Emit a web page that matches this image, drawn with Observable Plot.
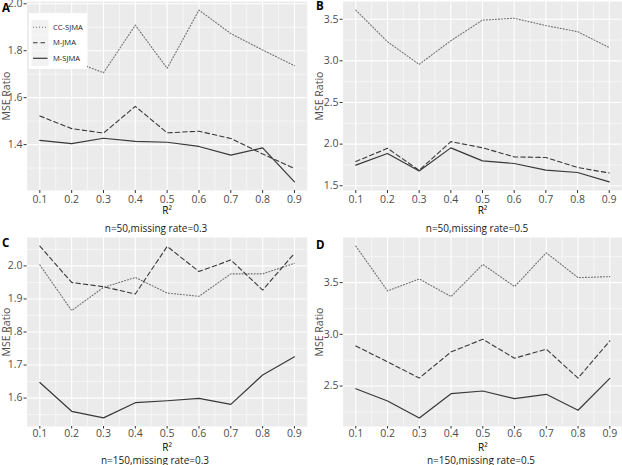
<!DOCTYPE html>
<html><head><meta charset="utf-8">
<script src="https://cdn.jsdelivr.net/npm/d3@7"></script>
<script src="https://cdn.jsdelivr.net/npm/@observablehq/plot@0.6"></script>
<style>
body{margin:0;background:#fff;font-family:"Open Sans",sans-serif}
#wrap{position:relative;width:622px;height:465px;overflow:hidden;background:#fff}
.pn{position:absolute}
.letter{position:absolute;font-weight:bold;font-size:11.5px;line-height:1;color:#000}
.cap{position:absolute;width:220px;text-align:center;font-size:10px;line-height:1;color:#1a1a1a;white-space:nowrap}
#legend{position:absolute}
</style>
</head><body><div id="wrap"></div>
<script>
// ---- data ----
const r2 = [0.1, 0.2, 0.3, 0.4, 0.5, 0.6, 0.7, 0.8, 0.9];
const methods = ["CC-SJMA", "M-JMA", "M-SJMA"];

const ccA = [1.75, 1.758, 1.706, 1.909, 1.725, 1.973, 1.873, 1.803, 1.736];
const mjA = [1.522, 1.468, 1.449, 1.563, 1.450, 1.457, 1.426, 1.360, 1.298];
const msA = [1.418, 1.404, 1.427, 1.414, 1.410, 1.392, 1.355, 1.386, 1.241];

const ccB = [3.61, 3.23, 2.958, 3.242, 3.49, 3.512, 3.424, 3.351, 3.16];
const mjB = [1.79, 1.95, 1.685, 2.03, 1.956, 1.847, 1.839, 1.719, 1.653];
const msB = [1.747, 1.888, 1.678, 1.955, 1.799, 1.767, 1.687, 1.659, 1.546];

const ccC = [2.003, 1.865, 1.935, 1.965, 1.918, 1.908, 1.976, 1.976, 2.008];
const mjC = [2.06, 1.95, 1.937, 1.915, 2.059, 1.983, 2.018, 1.927, 2.038];
const msC = [1.647, 1.56, 1.54, 1.586, 1.592, 1.599, 1.581, 1.67, 1.725];

const ccD = [3.853, 3.42, 3.535, 3.365, 3.676, 3.462, 3.788, 3.548, 3.558];
const mjD = [2.888, 2.734, 2.577, 2.83, 2.952, 2.769, 2.856, 2.577, 2.936];
const msD = [2.474, 2.356, 2.192, 2.426, 2.452, 2.378, 2.42, 2.266, 2.574];

const yTicksA = [1.4, 1.6, 1.8, 2.0];
const yTicksB = [1.5, 2.0, 2.5, 3.0, 3.5];
const yTicksC = [1.6, 1.7, 1.8, 1.9, 2.0];
const yTicksD = [2.5, 3.0, 3.5];

const letters = ["A", "B", "C", "D"];
const captions = ["n=50,missing rate=0.3", "n=50,missing rate=0.5", "n=150,missing rate=0.3", "n=150,missing rate=0.5"];
const yTitle = "MSE Ratio";
const xTitle = "R²";

// ---- styles / layout ----
const lineStyles = {
  "CC-SJMA": {stroke: "#6e6e6e", strokeWidth: 1.1, strokeDasharray: "1,2"},
  "M-JMA": {stroke: "#383838", strokeWidth: 1.1, strokeDasharray: "4.5,3"},
  "M-SJMA": {stroke: "#383838", strokeWidth: 1.2, strokeDasharray: null}
};
const W = 311, H = 216;
const layout = [
  {left: 0, top: 0, ml: 26.6, mr: 4.3, lx: 2, pad: 2, ts: 3, rdy: 20.5, letter: [2, 2], cap: [156, 223]},
  {left: 311, top: 0, ml: 31.6, mr: 0.6, lx: 4.5, pad: 2, ts: 3, rdy: 20.5, letter: [316, 0], cap: [477, 223]},
  {left: 0, top: 236, ml: 26.6, mr: 4.3, lx: 2, pad: 0.5, ts: 2.5, rdy: 21.5, letter: [2, 236.5], cap: [155, 455]},
  {left: 311, top: 236, ml: 31.6, mr: 0, lx: 4.5, pad: 0.5, ts: 2.5, rdy: 21.5, letter: [316, 238.5], cap: [481, 455]}
];
const series = [[ccA, mjA, msA], [ccB, mjB, msB], [ccC, mjC, msC], [ccD, mjD, msD]];
const yTicks = [yTicksA, yTicksB, yTicksC, yTicksD];

const wrap = document.getElementById("wrap");
const fmt = d3.format(".1f");

function expand(ext) { const p = (ext[1] - ext[0]) * 0.05; return [ext[0] - p, ext[1] + p]; }
function minor(t, dom) {
  const s = t[1] - t[0];
  return d3.range(t[0] - s / 2, t[t.length - 1] + s, s).filter(v => v >= dom[0] && v <= dom[1]);
}

series.forEach((ser, i) => {
  const L = layout[i];
  const data = methods.flatMap((m, k) => ser[k].map((v, j) => ({method: m, r2: r2[j], v})));
  const ydom = expand(d3.extent(data, d => d.v));
  const xdom = expand(d3.extent(r2));
  const xMinor = minor(r2, xdom);
  const yMinor = minor(yTicks[i], ydom);
  const chart = Plot.plot({
    width: W, height: H,
    marginLeft: L.ml, marginRight: L.mr, marginTop: 1, marginBottom: H - 190,
    style: {fontFamily: "Open Sans, sans-serif", fontSize: "10px", background: "transparent", overflow: "visible"},
    x: {domain: xdom},
    y: {domain: ydom},
    marks: [
      Plot.frame({fill: "#EBEBEB", stroke: "none"}),
      Plot.gridX(xMinor, {stroke: "#fff", strokeOpacity: 1, strokeWidth: 0.55}),
      Plot.gridY(yMinor, {stroke: "#fff", strokeOpacity: 1, strokeWidth: 0.55}),
      Plot.gridX(r2, {stroke: "#fff", strokeOpacity: 1, strokeWidth: 1.1}),
      Plot.gridY(yTicks[i], {stroke: "#fff", strokeOpacity: 1, strokeWidth: 1.1}),
      Plot.axisX(r2, {tickSize: L.ts, tickPadding: L.pad, tickFormat: fmt, label: null, stroke: "#333", fill: "#4d4d4d", fontSize: 10.5}),
      Plot.axisY(yTicks[i], {tickSize: 3, tickPadding: 1.5, tickFormat: fmt, stroke: "#333", fill: "#4d4d4d", fontSize: 10.5,
        label: yTitle, labelAnchor: "center", labelArrow: "none", labelOffset: L.ml - L.lx}),
      ...methods.map(m => Plot.line(data.filter(d => d.method === m), {x: "r2", y: "v", ...lineStyles[m]})),
      Plot.text([xTitle], {text: d => d, frameAnchor: "bottom", dy: L.rdy, lineAnchor: "middle", fill: "#000", fontSize: 10})
    ]
  });
  chart.classList.add("pn");
  chart.style.left = L.left + "px";
  chart.style.top = L.top + "px";
  wrap.appendChild(chart);

  const lt = document.createElement("div");
  lt.className = "letter";
  lt.textContent = letters[i];
  lt.style.left = L.letter[0] + "px";
  lt.style.top = L.letter[1] + "px";
  wrap.appendChild(lt);

  const cp = document.createElement("div");
  cp.className = "cap";
  cp.textContent = captions[i];
  cp.style.left = (L.cap[0] - 110) + "px";
  cp.style.top = L.cap[1] + "px";
  wrap.appendChild(cp);
});

// ---- legend (panel A) ----
const lg = d3.select(wrap).append("svg").attr("id", "legend")
  .attr("width", 58).attr("height", 56)
  .style("left", "29px").style("top", "13px");
lg.append("rect").attr("width", 58).attr("height", 56).attr("fill", "#fff");
methods.forEach((m, k) => {
  const cy = 14.3 + k * 15.5;
  const g = lg.append("g");
  g.append("rect").attr("x", 2.5).attr("y", cy - 7.5).attr("width", 17).attr("height", 15).attr("fill", "#F2F2F2");
  const s = lineStyles[m];
  g.append("line").attr("x1", 4).attr("x2", 18.5).attr("y1", cy).attr("y2", cy)
    .attr("stroke", s.stroke).attr("stroke-width", s.strokeWidth)
    .attr("stroke-dasharray", s.strokeDasharray);
  g.append("text").attr("x", 24).attr("y", cy).attr("dy", "0.35em")
    .attr("font-size", 7.6).attr("fill", "#1a1a1a").attr("font-family", "Open Sans, sans-serif").text(m);
});
</script>
</body></html>
